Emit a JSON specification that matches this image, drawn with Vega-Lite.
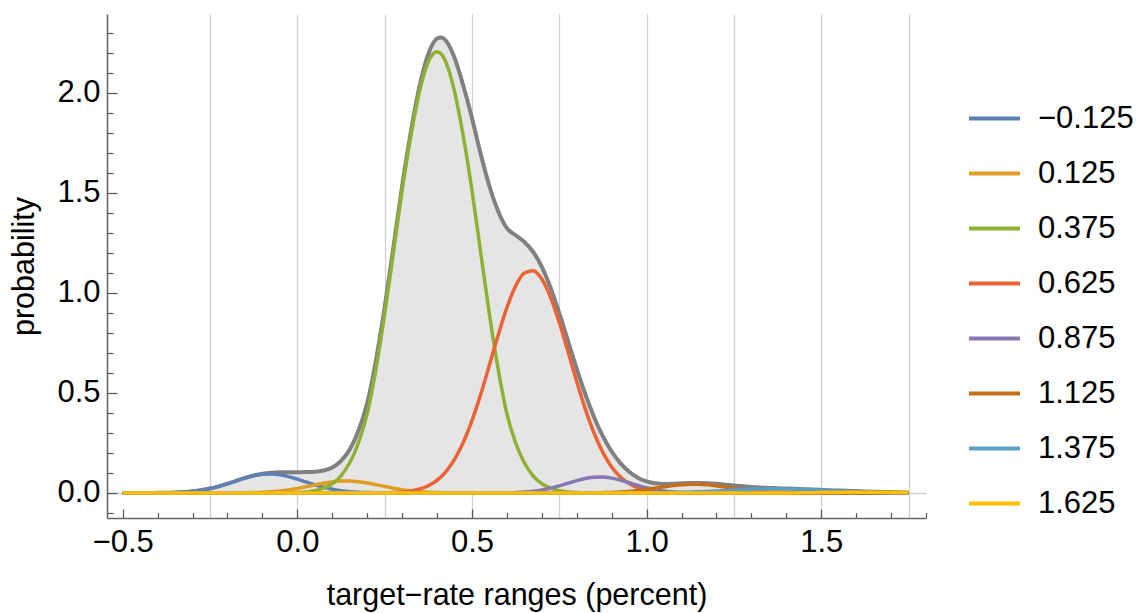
{
  "$schema": "https://vega.github.io/schema/vega-lite/v6.json",
  "width": 819,
  "height": 504,
  "autosize": {"type": "none"},
  "padding": {"left": 107, "top": 14, "right": 215, "bottom": 95},
  "background": "white",
  "config": {
    "view": {"stroke": null},
    "font": "Liberation Sans",
    "axis": {"labelFont": "Liberation Sans", "titleFont": "Liberation Sans"},
    "legend": {"labelFont": "Liberation Sans"}
  },
  "data": {"values": [
    {"x":-0.5,"a":0,"b":0,"c":0,"d":0,"e":0,"f":0,"g":0,"h":0,"t":0},
    {"x":-0.475,"a":0,"b":0,"c":0,"d":0,"e":0,"f":0,"g":0,"h":0,"t":0},
    {"x":-0.45,"a":0.0001,"b":0,"c":0,"d":0,"e":0,"f":0,"g":0,"h":0,"t":0.0001},
    {"x":-0.425,"a":0.0002,"b":0,"c":0,"d":0,"e":0,"f":0,"g":0,"h":0,"t":0.0002},
    {"x":-0.4,"a":0.0006,"b":0,"c":0,"d":0,"e":0,"f":0,"g":0,"h":0,"t":0.0006},
    {"x":-0.375,"a":0.0012,"b":0,"c":0,"d":0,"e":0,"f":0,"g":0,"h":0,"t":0.0012},
    {"x":-0.35,"a":0.0025,"b":0,"c":0,"d":0,"e":0,"f":0,"g":0,"h":0,"t":0.0025},
    {"x":-0.325,"a":0.0047,"b":0,"c":0,"d":0,"e":0,"f":0,"g":0,"h":0,"t":0.0047},
    {"x":-0.3,"a":0.0084,"b":0,"c":0,"d":0,"e":0,"f":0,"g":0,"h":0,"t":0.0084},
    {"x":-0.275,"a":0.0142,"b":0,"c":0,"d":0,"e":0,"f":0,"g":0,"h":0,"t":0.0142},
    {"x":-0.25,"a":0.0224,"b":0,"c":0,"d":0,"e":0,"f":0,"g":0,"h":0,"t":0.0224},
    {"x":-0.225,"a":0.0332,"b":0,"c":0,"d":0,"e":0,"f":0,"g":0,"h":0,"t":0.0332},
    {"x":-0.2,"a":0.0462,"b":0.0002,"c":0,"d":0,"e":0,"f":0,"g":0,"h":0,"t":0.0464},
    {"x":-0.175,"a":0.0605,"b":0.0004,"c":0,"d":0,"e":0,"f":0,"g":0,"h":0,"t":0.0609},
    {"x":-0.15,"a":0.0744,"b":0.0009,"c":0,"d":0,"e":0,"f":0,"g":0,"h":0,"t":0.0753},
    {"x":-0.125,"a":0.0859,"b":0.0018,"c":0,"d":0,"e":0,"f":0,"g":0,"h":0,"t":0.0877},
    {"x":-0.1,"a":0.0931,"b":0.0034,"c":0,"d":0,"e":0,"f":0,"g":0,"h":0,"t":0.0965},
    {"x":-0.075,"a":0.0949,"b":0.006,"c":0.0001,"d":0,"e":0,"f":0,"g":0,"h":0,"t":0.1012},
    {"x":-0.05,"a":0.0908,"b":0.0099,"c":0.0004,"d":0,"e":0,"f":0,"g":0,"h":0,"t":0.103},
    {"x":-0.025,"a":0.0817,"b":0.0154,"c":0.0009,"d":0,"e":0,"f":0,"g":0,"h":0,"t":0.1035},
    {"x":0,"a":0.069,"b":0.0225,"c":0.0023,"d":0,"e":0,"f":0,"g":0,"h":0,"t":0.104},
    {"x":0.025,"a":0.0547,"b":0.031,"c":0.0053,"d":0,"e":0,"f":0,"g":0,"h":0,"t":0.1045},
    {"x":0.05,"a":0.0408,"b":0.04,"c":0.0115,"d":0,"e":0,"f":0,"g":0,"h":0,"t":0.106},
    {"x":0.075,"a":0.0286,"b":0.0486,"c":0.0237,"d":0,"e":0,"f":0,"g":0,"h":0,"t":0.112},
    {"x":0.1,"a":0.0188,"b":0.0554,"c":0.0463,"d":0,"e":0,"f":0,"g":0,"h":0,"t":0.127},
    {"x":0.125,"a":0.0116,"b":0.0593,"c":0.0858,"d":0,"e":0,"f":0,"g":0,"h":0,"t":0.16},
    {"x":0.15,"a":0.0067,"b":0.0597,"c":0.1508,"d":0,"e":0,"f":0,"g":0,"h":0,"t":0.2172},
    {"x":0.175,"a":0.0037,"b":0.0564,"c":0.2511,"d":0,"e":0,"f":0,"g":0,"h":0,"t":0.3112},
    {"x":0.2,"a":0.0019,"b":0.0501,"c":0.3962,"d":0.0002,"e":0,"f":0,"g":0,"h":0,"t":0.4484},
    {"x":0.225,"a":0.0009,"b":0.0418,"c":0.6187,"d":0.0004,"e":0,"f":0,"g":0,"h":0,"t":0.6618},
    {"x":0.25,"a":0.0004,"b":0.0328,"c":0.8932,"d":0.0011,"e":0,"f":0,"g":0,"h":0,"t":0.9275},
    {"x":0.275,"a":0.0002,"b":0.0241,"c":1.2004,"d":0.0024,"e":0,"f":0,"g":0,"h":0,"t":1.2271},
    {"x":0.3,"a":0.0001,"b":0.0167,"c":1.512,"d":0.005,"e":0,"f":0,"g":0,"h":0,"t":1.5338},
    {"x":0.325,"a":0,"b":0.0108,"c":1.7832,"d":0.0102,"e":0,"f":0,"g":0,"h":0,"t":1.8042},
    {"x":0.35,"a":0,"b":0.0066,"c":2.0066,"d":0.0198,"e":0,"f":0,"g":0,"h":0,"t":2.033},
    {"x":0.375,"a":0,"b":0.0038,"c":2.1537,"d":0.0363,"e":0,"f":0,"g":0,"h":0,"t":2.1938},
    {"x":0.3875,"a":0,"b":0.0028,"c":2.192,"d":0.0483,"e":0,"f":0,"g":0,"h":0,"t":2.2431},
    {"x":0.4,"a":0,"b":0.002,"c":2.205,"d":0.0636,"e":0,"f":0,"g":0,"h":0,"t":2.2706},
    {"x":0.4125,"a":0,"b":0.0015,"c":2.192,"d":0.0825,"e":0,"f":0,"g":0,"h":0,"t":2.276},
    {"x":0.425,"a":0,"b":0.001,"c":2.1537,"d":0.1057,"e":0,"f":0,"g":0,"h":0,"t":2.2604},
    {"x":0.45,"a":0,"b":0.0005,"c":2.0066,"d":0.1674,"e":0,"f":0,"g":0,"h":0,"t":2.1745},
    {"x":0.475,"a":0,"b":0.0002,"c":1.7832,"d":0.2521,"e":0,"f":0,"g":0,"h":0,"t":2.0355},
    {"x":0.5,"a":0,"b":0.0001,"c":1.512,"d":0.3614,"e":0,"f":0,"g":0,"h":0,"t":1.8735},
    {"x":0.525,"a":0,"b":0,"c":1.2004,"d":0.4926,"e":0,"f":0,"g":0,"h":0,"t":1.693},
    {"x":0.55,"a":0,"b":0,"c":0.8932,"d":0.639,"e":0.0002,"f":0,"g":0,"h":0,"t":1.5324},
    {"x":0.575,"a":0,"b":0,"c":0.6187,"d":0.7884,"e":0.0004,"f":0,"g":0,"h":0,"t":1.4075},
    {"x":0.6,"a":0,"b":0,"c":0.3962,"d":0.9257,"e":0.001,"f":0,"g":0,"h":0,"t":1.3229},
    {"x":0.625,"a":0,"b":0,"c":0.2511,"d":1.034,"e":0.0023,"f":0,"g":0,"h":0,"t":1.2874},
    {"x":0.65,"a":0,"b":0,"c":0.1508,"d":1.0987,"e":0.0046,"f":0,"g":0,"h":0,"t":1.2541},
    {"x":0.675,"a":0,"b":0,"c":0.0858,"d":1.1108,"e":0.0086,"f":0,"g":0,"h":0,"t":1.2052},
    {"x":0.7,"a":0,"b":0,"c":0.0463,"d":1.0685,"e":0.0149,"f":0,"g":0,"h":0,"t":1.1297},
    {"x":0.725,"a":0,"b":0,"c":0.0237,"d":0.9778,"e":0.0239,"f":0,"g":0,"h":0,"t":1.0254},
    {"x":0.75,"a":0,"b":0,"c":0.0115,"d":0.8513,"e":0.0354,"f":0,"g":0,"h":0,"t":0.8982},
    {"x":0.775,"a":0,"b":0,"c":0.0053,"d":0.7052,"e":0.0485,"f":0,"g":0,"h":0,"t":0.759},
    {"x":0.8,"a":0,"b":0,"c":0.0023,"d":0.5557,"e":0.0616,"f":0.0002,"g":0,"h":0,"t":0.6198},
    {"x":0.825,"a":0,"b":0,"c":0.0009,"d":0.4167,"e":0.0725,"f":0.0004,"g":0,"h":0,"t":0.4905},
    {"x":0.85,"a":0,"b":0,"c":0.0004,"d":0.2973,"e":0.0789,"f":0.0008,"g":0,"h":0,"t":0.3774},
    {"x":0.875,"a":0,"b":0,"c":0.0001,"d":0.2017,"e":0.0795,"f":0.0015,"g":0,"h":0,"t":0.2828},
    {"x":0.9,"a":0,"b":0,"c":0,"d":0.1302,"e":0.0742,"f":0.0028,"g":0.0001,"h":0,"t":0.2073},
    {"x":0.925,"a":0,"b":0,"c":0,"d":0.08,"e":0.0641,"f":0.0049,"g":0.0001,"h":0,"t":0.1491},
    {"x":0.95,"a":0,"b":0,"c":0,"d":0.0467,"e":0.0512,"f":0.0079,"g":0.0002,"h":0,"t":0.106},
    {"x":0.975,"a":0,"b":0,"c":0,"d":0.026,"e":0.0379,"f":0.0122,"g":0.0004,"h":0,"t":0.0765},
    {"x":1,"a":0,"b":0,"c":0,"d":0.0138,"e":0.026,"f":0.0177,"g":0.0006,"h":0,"t":0.0581},
    {"x":1.025,"a":0,"b":0,"c":0,"d":0.0069,"e":0.0165,"f":0.024,"g":0.001,"h":0,"t":0.0484},
    {"x":1.05,"a":0,"b":0,"c":0,"d":0.0033,"e":0.0097,"f":0.0307,"g":0.0015,"h":0,"t":0.0452},
    {"x":1.075,"a":0,"b":0,"c":0,"d":0.0015,"e":0.0053,"f":0.0368,"g":0.0023,"h":0,"t":0.0459},
    {"x":1.1,"a":0,"b":0,"c":0,"d":0.0007,"e":0.0026,"f":0.0414,"g":0.0033,"h":0,"t":0.048},
    {"x":1.125,"a":0,"b":0,"c":0,"d":0.0003,"e":0.0012,"f":0.0438,"g":0.0045,"h":0,"t":0.0498},
    {"x":1.15,"a":0,"b":0,"c":0,"d":0.0001,"e":0.0005,"f":0.0435,"g":0.0061,"h":0,"t":0.0502},
    {"x":1.175,"a":0,"b":0,"c":0,"d":0,"e":0.0002,"f":0.0406,"g":0.008,"h":0,"t":0.0488},
    {"x":1.2,"a":0,"b":0,"c":0,"d":0,"e":0,"f":0.0356,"g":0.01,"h":0,"t":0.0456},
    {"x":1.225,"a":0,"b":0,"c":0,"d":0,"e":0,"f":0.0293,"g":0.0123,"h":0,"t":0.0416},
    {"x":1.25,"a":0,"b":0,"c":0,"d":0,"e":0,"f":0.0227,"g":0.0145,"h":0,"t":0.0372},
    {"x":1.275,"a":0,"b":0,"c":0,"d":0,"e":0,"f":0.0165,"g":0.0167,"h":0,"t":0.0332},
    {"x":1.3,"a":0,"b":0,"c":0,"d":0,"e":0,"f":0.0113,"g":0.0185,"h":0,"t":0.0298},
    {"x":1.325,"a":0,"b":0,"c":0,"d":0,"e":0,"f":0.0072,"g":0.0199,"h":0,"t":0.0271},
    {"x":1.35,"a":0,"b":0,"c":0,"d":0,"e":0,"f":0.0044,"g":0.0208,"h":0.0001,"t":0.0253},
    {"x":1.375,"a":0,"b":0,"c":0,"d":0,"e":0,"f":0.0025,"g":0.021,"h":0.0002,"t":0.0237},
    {"x":1.4,"a":0,"b":0,"c":0,"d":0,"e":0,"f":0.0013,"g":0.0205,"h":0.0003,"t":0.0221},
    {"x":1.425,"a":0,"b":0,"c":0,"d":0,"e":0,"f":0.0007,"g":0.0194,"h":0.0005,"t":0.0206},
    {"x":1.45,"a":0,"b":0,"c":0,"d":0,"e":0,"f":0.0003,"g":0.0178,"h":0.0009,"t":0.019},
    {"x":1.475,"a":0,"b":0,"c":0,"d":0,"e":0,"f":0.0001,"g":0.0159,"h":0.0013,"t":0.0173},
    {"x":1.5,"a":0,"b":0,"c":0,"d":0,"e":0,"f":0,"g":0.0136,"h":0.0018,"t":0.0154},
    {"x":1.525,"a":0,"b":0,"c":0,"d":0,"e":0,"f":0,"g":0.0114,"h":0.0024,"t":0.0138},
    {"x":1.55,"a":0,"b":0,"c":0,"d":0,"e":0,"f":0,"g":0.0092,"h":0.003,"t":0.0122},
    {"x":1.575,"a":0,"b":0,"c":0,"d":0,"e":0,"f":0,"g":0.0072,"h":0.0035,"t":0.0107},
    {"x":1.6,"a":0,"b":0,"c":0,"d":0,"e":0,"f":0,"g":0.0054,"h":0.0039,"t":0.0093},
    {"x":1.625,"a":0,"b":0,"c":0,"d":0,"e":0,"f":0,"g":0.004,"h":0.004,"t":0.008},
    {"x":1.65,"a":0,"b":0,"c":0,"d":0,"e":0,"f":0,"g":0.0028,"h":0.0039,"t":0.0067},
    {"x":1.675,"a":0,"b":0,"c":0,"d":0,"e":0,"f":0,"g":0.002,"h":0.0035,"t":0.0055},
    {"x":1.7,"a":0,"b":0,"c":0,"d":0,"e":0,"f":0,"g":0.0013,"h":0.003,"t":0.0043},
    {"x":1.725,"a":0,"b":0,"c":0,"d":0,"e":0,"f":0,"g":0.0008,"h":0.0024,"t":0.0032},
    {"x":1.75,"a":0,"b":0,"c":0,"d":0,"e":0,"f":0,"g":0.0005,"h":0.0018,"t":0.0023}
  ]},
  "layer": [
    {
      "mark": {"type": "area", "color": "#e5e5e5", "interpolate": "monotone"},
      "encoding": {
        "x": {
          "field": "x", "type": "quantitative",
          "scale": {"domain": [-0.545, 1.8], "nice": false, "zero": false},
          "axis": {
            "values": [-0.5,-0.4,-0.3,-0.25,-0.2,-0.1,0,0.1,0.2,0.25,0.3,0.4,0.5,0.6,0.7,0.75,0.8,0.9,1,1.1,1.2,1.25,1.3,1.4,1.5,1.6,1.7,1.75,1.8],
            "tickCount": 200,
            "format": ".1f",
            "labelExpr": "abs(datum.value*2 - round(datum.value*2)) < 0.001 ? datum.label : ''",
            "tickSize": {"condition": {"test": "abs(datum.value*2 - round(datum.value*2)) < 0.001", "value": -9}, "value": -5.5},
            "tickOpacity": {"condition": {"test": "abs(datum.value*10 - round(datum.value*10)) < 0.001", "value": 1}, "value": 0},
            "grid": true,
            "gridOpacity": {"condition": {"test": "abs(datum.value*4 - round(datum.value*4)) < 0.001 && datum.value > -0.3", "value": 1}, "value": 0},
            "gridColor": "#d0d0d0",
            "gridWidth": 1.3,
            "domainColor": "#666666",
            "domainWidth": 1.6,
            "tickColor": "#555555",
            "tickWidth": 1.2,
            "labelFontSize": 31,
            "labelColor": "#000000",
            "labelPadding": 18,
            "labelFlush": false,
            "labelOverlap": false,
            "title": "target−rate ranges (percent)",
            "titleFontSize": 30.5,
            "titleFontWeight": "normal",
            "titleColor": "#000000",
            "titlePadding": 20
          }
        },
        "y": {
          "field": "t", "type": "quantitative",
          "scale": {"domain": [-0.125, 2.393], "nice": false, "zero": false},
          "axis": {
            "values": [-0.1,0,0.1,0.2,0.3,0.4,0.5,0.6,0.7,0.8,0.9,1,1.1,1.2,1.3,1.4,1.5,1.6,1.7,1.8,1.9,2,2.1,2.2,2.3],
            "tickCount": 200,
            "format": ".1f",
            "labelExpr": "abs(datum.value*2 - round(datum.value*2)) < 0.001 ? datum.label : ''",
            "tickSize": {"condition": {"test": "abs(datum.value*2 - round(datum.value*2)) < 0.001", "value": -10}, "value": -6},
            "grid": true,
            "gridOpacity": {"condition": {"test": "abs(datum.value) < 0.001", "value": 1}, "value": 0},
            "gridColor": "#cccccc",
            "gridWidth": 1.3,
            "domainColor": "#666666",
            "domainWidth": 1.6,
            "tickColor": "#555555",
            "tickWidth": 1.2,
            "labelFontSize": 31,
            "labelColor": "#000000",
            "labelPadding": 17,
            "labelOverlap": false,
            "labelFlush": false,
            "title": "probability",
            "titleFontSize": 30.5,
            "titleFontWeight": "normal",
            "titleColor": "#000000",
            "titlePadding": 17
          }
        },
        "y2": {"datum": 0}
      }
    },
    {
      "mark": {"type": "line", "color": "#808080", "strokeWidth": 4, "interpolate": "monotone"},
      "encoding": {
        "x": {"field": "x", "type": "quantitative"},
        "y": {"field": "t", "type": "quantitative"}
      }
    },
    {
      "transform": [{"fold": ["a","b","c","d","e","f","g","h"], "as": ["s","p"]}],
      "mark": {"type": "line", "strokeWidth": 3.5, "interpolate": "monotone"},
      "encoding": {
        "x": {"field": "x", "type": "quantitative"},
        "y": {"field": "p", "type": "quantitative"},
        "color": {
          "field": "s", "type": "nominal",
          "scale": {"domain": ["a","b","c","d","e","f","g","h"], "range": ["#5e81b5","#e19c24","#8fb032","#eb6235","#8778b3","#c56e1a","#5d9ec7","#ffbf00"]},
          "legend": {
            "orient": "none",
            "legendX": 860,
            "legendY": 77,
            "padding": 0,
            "title": null,
            "symbolType": "stroke",
            "symbolSize": 2601,
            "symbolStrokeWidth": 4,
            "labelFontSize": 31,
            "labelColor": "#000000",
            "labelOffset": 16,
            "rowPadding": 12,
            "labelExpr": "['−0.125','0.125','0.375','0.625','0.875','1.125','1.375','1.625'][indexof(['a','b','c','d','e','f','g','h'], datum.value)]"
          }
        }
      }
    }
  ]
}
